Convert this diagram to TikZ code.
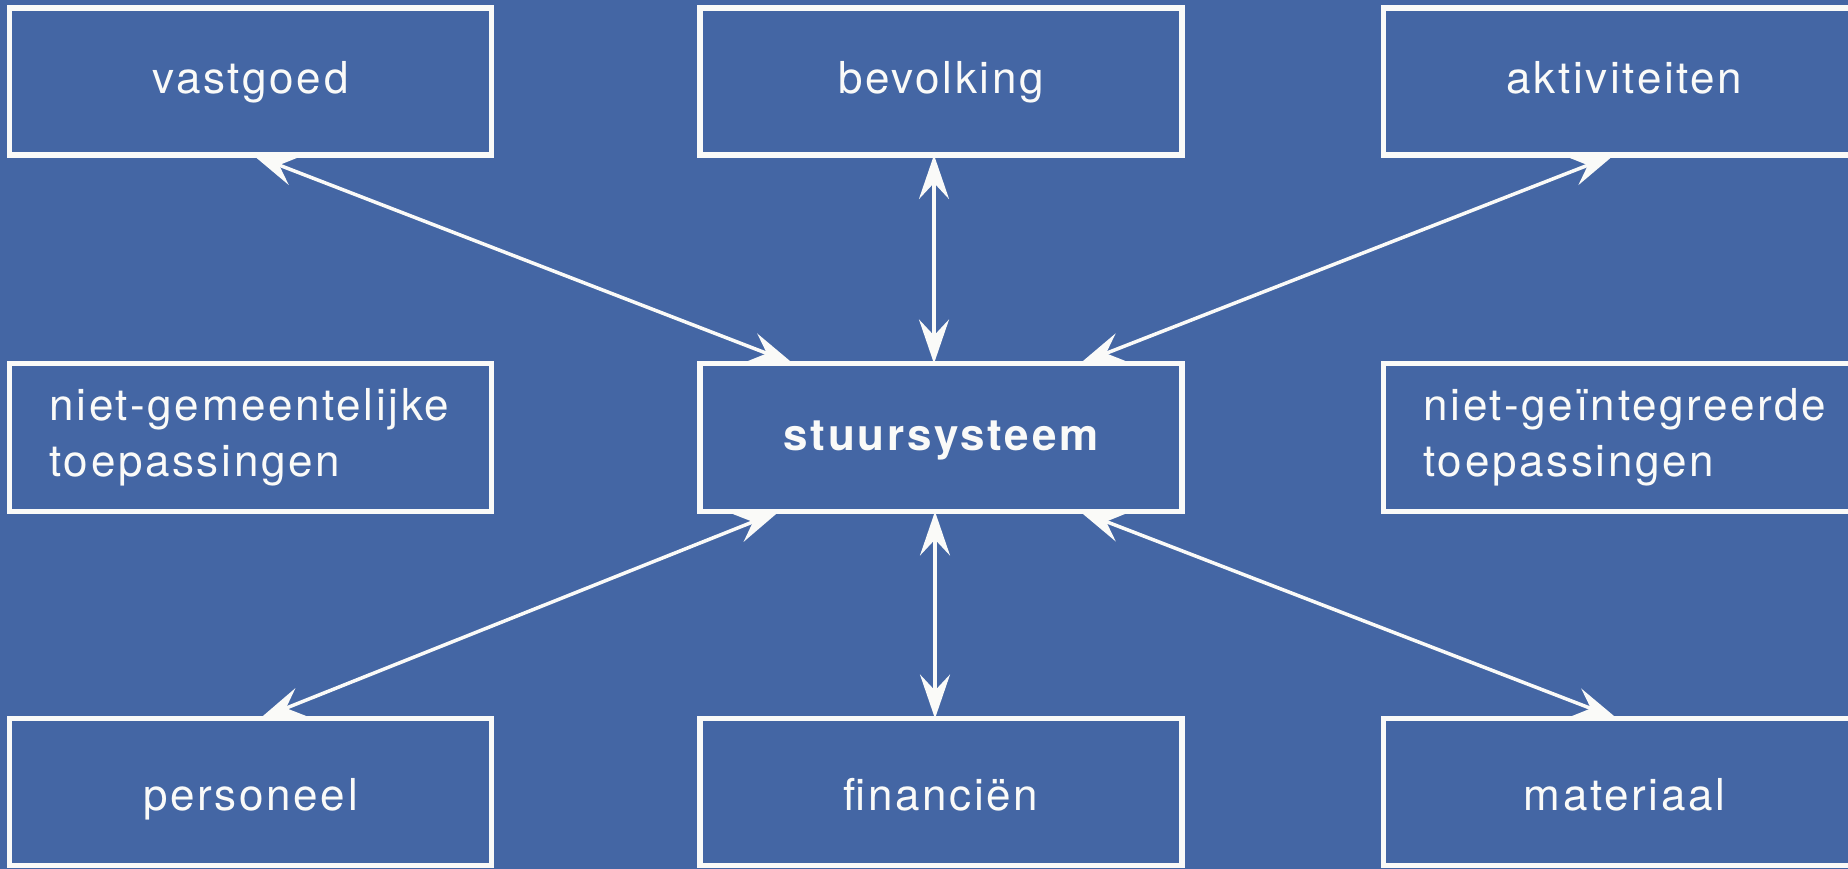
\documentclass[tikz,border=0pt]{standalone}
\usepackage{fontspec}
\setmainfont{TeX Gyre Heros}[LetterSpace=6]
\usetikzlibrary{arrows.meta,calc}
\definecolor{bg}{RGB}{68,102,164}
\definecolor{fg}{RGB}{250,250,248}
\tikzset{
  box/.style={draw=fg, line width=5.5pt, minimum width=482pt, minimum height=147pt,
    inner sep=0pt, outer sep=0pt, text=fg, font=\fontsize{44}{56}\selectfont,
    text height=34pt, text depth=9pt},
  lowbox/.style={box, text height=40pt, text depth=4pt},
  twoline/.style={draw=fg, line width=5.5pt, minimum width=482pt, minimum height=148pt,
    inner xsep=40pt, inner ysep=0pt, outer sep=0pt, text=fg,
    font=\fontsize{44}{56}\selectfont, align=left, text width=402pt},
  link/.style={draw=fg, line width=3.5pt,
    {Stealth[length=44pt,width=30pt,inset=16pt]}-{Stealth[length=44pt,width=30pt,inset=16pt]}},
}
\begin{document}
\begin{tikzpicture}[x=1pt,y=-1pt]
\fill[bg] (0,0) rectangle (1848,869);
\useasboundingbox (0,0) rectangle (1848,869);
\clip (0,0) rectangle (1848,869);

\node[box] (vastgoed) at (250.5,81.5) {vastgoed};
\node[box] (bevolking) at (941,81.5) {bevolking};
\node[box] (aktiv) at (1624.5,81.5) {aktiviteiten};

\node[twoline] (nietgem) at (250.5,437.5) {\mbox{niet-gemeentelijke}\\toepassingen};
\node[box, font=\fontsize{44}{56}\selectfont\bfseries, minimum height=148pt] (stuur) at (941,437.5) {stuursysteem};
\node[twoline] (nietint) at (1624.5,437.5) {\mbox{niet-geïntegreerde}\\toepassingen};

\node[lowbox] (personeel) at (250.5,792) {personeel};
\node[lowbox] (financien) at (941,792) {financiën};
\node[lowbox] (materiaal) at (1624.5,792) {materiaal};

\draw[link] ($(vastgoed.south west)+(243.5,0)$) -- ($(stuur.north west)+(93,0)$);
\draw[link] ($(bevolking.south west)+(234,0)$) -- ($(stuur.north west)+(234,0)$);
\draw[link] ($(aktiv.south west)+(230.5,0)$) -- ($(stuur.north west)+(380,0)$);
\draw[link] ($(stuur.south west)+(79,0)$) -- ($(personeel.north west)+(250.5,0)$);
\draw[link] ($(stuur.south west)+(235,0)$) -- ($(financien.north west)+(235,0)$);
\draw[link] ($(stuur.south west)+(380,0)$) -- ($(materiaal.north west)+(233.5,0)$);
\end{tikzpicture}
\end{document}
